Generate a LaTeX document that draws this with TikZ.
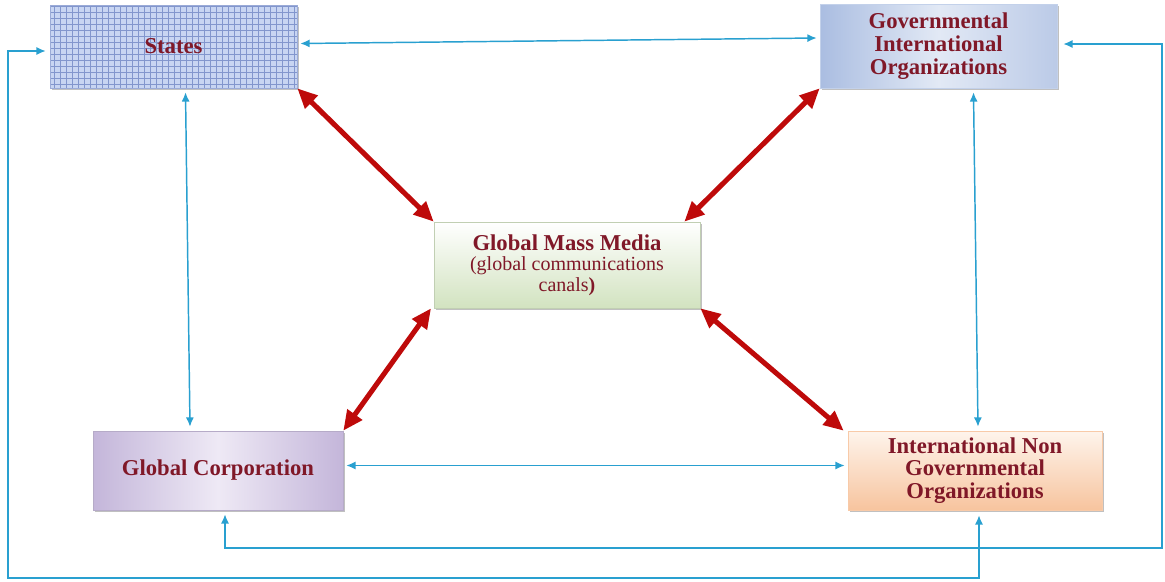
\documentclass[tikz,border=0pt]{standalone}
\usepackage{fontspec}
\setmainfont{Liberation Serif}
\usetikzlibrary{arrows.meta,shadows}
\definecolor{bl}{RGB}{41,160,208}
\definecolor{rd}{RGB}{190,10,10}
\definecolor{tx}{RGB}{128,24,40}
\definecolor{stfill}{RGB}{200,213,242}
\definecolor{stgrid}{RGB}{130,150,205}
\definecolor{gioA}{RGB}{170,189,225}
\definecolor{gioB}{RGB}{226,233,245}
\definecolor{gmmB}{RGB}{210,227,192}
\definecolor{gcA}{RGB}{196,182,218}
\definecolor{gcB}{RGB}{238,233,245}
\definecolor{ingA}{RGB}{254,244,236}
\definecolor{ingB}{RGB}{247,196,158}
\begin{document}
\begin{tikzpicture}[x=0.75pt,y=-0.75pt,
  box/.style={rectangle, inner sep=0pt, align=center, text=tx,
    font=\bfseries\fontsize{17}{17}\selectfont,
    drop shadow={shadow xshift=1.3pt, shadow yshift=-1.5pt, opacity=0.45, fill=black!55}},
  bluearr/.style={bl, line width=1.1pt, {Latex[length=7pt,width=6pt]}-{Latex[length=7pt,width=6pt]}},
  redarr/.style={rd, line width=3.8pt, {Triangle[length=15pt,width=13pt]}-{Triangle[length=15pt,width=13pt]}}]
\useasboundingbox (0,0) rectangle (1165,582);

\node[box, draw=stgrid!80, minimum width=185.25pt, minimum height=62.25pt,
  path picture={\fill[stfill] (path picture bounding box.south west) rectangle (path picture bounding box.north east);
    \draw[stgrid, line width=0.35pt] (path picture bounding box.south west) grid[step=4.5pt] (path picture bounding box.north east);}]
  (st) at (173.5,46.5) {States};

\node[box, draw=gioA!70, minimum width=177.75pt, minimum height=63pt,
  left color=gioA, right color=gioA!80, middle color=gioB]
  (gio) at (938.5,46) {Governmental\\International\\Organizations};

\node[box, draw=gmmB!80!gray, minimum width=199.5pt, minimum height=64.5pt,
  top color=white, bottom color=gmmB]
  (gmm) at (567,265) {Global Mass Media\\[-2pt]{\mdseries\fontsize{15}{15}\selectfont (global communications}\\[-1pt]{\mdseries\fontsize{15}{15}\selectfont canals}{\fontsize{15}{15}\selectfont)}};

\node[box, draw=gcA!80!gray, minimum width=187.5pt, minimum height=59.25pt,
  left color=gcA, right color=gcA, middle color=gcB]
  (gc) at (218,470.5) {Global Corporation};

\node[box, draw=ingB!90, minimum width=190.5pt, minimum height=59.25pt,
  top color=ingA, bottom color=ingB]
  (ingo) at (975,470.5) {International Non\\Governmental\\Organizations};

% blue connectors
\draw[bluearr] ([shift={(3,-3)}]st.east) -- ([shift={(-3,-8)}]gio.west);
\draw[bluearr] ([shift={(12,4)}]st.south) -- ([shift={(-28,-4)}]gc.north);
\draw[bluearr] ([shift={(35,4)}]gio.south) -- ([shift={(3,-4)}]ingo.north);
\draw[bluearr] ([shift={(3,-5)}]gc.east) -- ([shift={(-3,-5)}]ingo.west);
\coordinate (r1) at (1162,548);
\draw[bluearr] ([shift={(7,4)}]gc.south) |- (r1) |- ([shift={(6,-2)}]gio.east);
\coordinate (l1) at (8,578);
\draw[bluearr] ([shift={(4,5)}]ingo.south) |- (l1) |- ([shift={(-4,4.5)}]st.west);

% red connectors
\draw[redarr] (st.south east) -- (gmm.north west);
\draw[redarr] (gio.south west) -- ([xshift=-12]gmm.north east);
\draw[redarr] ([xshift=-2]gmm.south west) -- (gc.north east);
\draw[redarr] (gmm.south east) -- ([xshift=-3]ingo.north west);
\end{tikzpicture}
\end{document}
